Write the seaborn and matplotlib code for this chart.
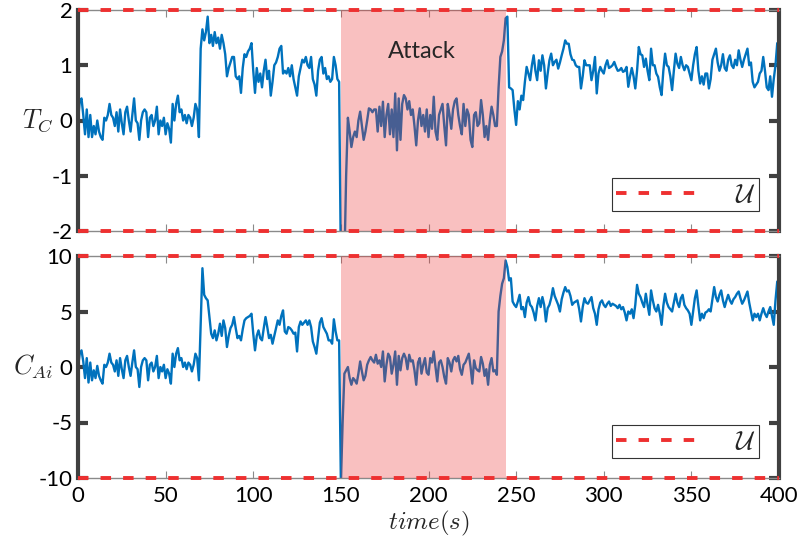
import numpy as np
import pandas as pd
import seaborn as sns
import matplotlib
matplotlib.use("Agg")
import matplotlib.pyplot as plt

# ---------------- data ----------------
time_s = np.arange(0, 401)

tc_values = [
    0.0, 0.35, 0.4, 0.1, -0.25, 0.2, -0.3, 0.1, -0.3, -0.1,
    -0.25, 0.0, -0.2, -0.3, -0.35, 0.05, 0.0, 0.1, 0.3, 0.1,
    0.05, -0.1, 0.15, -0.2, 0.2, -0.05, -0.25, 0.15, 0.25, 0.0,
    -0.2, 0.1, 0.4, 0.0, -0.05, -0.35, 0.0, 0.15, 0.2, 0.15,
    -0.3, 0.05, 0.1, -0.1, 0.0, 0.25, -0.25, 0.0, -0.1, 0.05,
    -0.25, -0.05, -0.15, -0.4, 0.3, 0.0, 0.3, 0.45, 0.15, 0.2,
    0.0, 0.1, -0.05, 0.1, 0.05, -0.1, 0.05, 0.3, 0.2, -0.3,
    1.3, 1.65, 1.45, 1.6, 1.88, 1.4, 1.55, 1.35, 1.6, 1.4,
    1.5, 1.3, 1.55, 1.4, 1.2, 0.8, 0.95, 1.05, 1.15, 1.15,
    0.8, 0.75, 0.8, 0.5, 0.95, 1.2, 1.15, 1.25, 1.3, 1.4,
    0.9, 0.5, 0.95, 0.7, 0.85, 0.6, 0.9, 1.1, 0.75, 0.9,
    0.45, 0.7, 1.0, 1.05, 1.15, 1.3, 1.35, 0.85, 0.9, 0.85,
    0.95, 0.8, 1.0, 0.75, 0.6, 0.45, 0.8, 0.95, 1.1, 1.05,
    1.15, 1.0, 0.95, 1.15, 0.75, 0.65, 0.45, 0.9, 1.1, 1.15,
    0.85, 0.95, 0.75, 0.8, 0.7, 0.75, 1.15, 1.0, 0.75, 0.7,
    -2.6, -2.6, -2.6, -1.0, 0.05, -0.2, -0.48, -0.3, -0.2, -0.3,
    0.0, 0.16, -0.1, -0.35, -0.2, 0.0, 0.22, 0.2, 0.15, 0.2,
    0.2, -0.2, 0.25, -0.1, 0.34, -0.3, 0.1, 0.3, -0.25, 0.2,
    -0.3, 0.49, -0.54, 0.4, -0.35, 0.3, 0.46, 0.4, 0.2, 0.35,
    0.1, 0.2, -0.1, -0.45, 0.0, 0.22, -0.1, 0.1, -0.2, 0.2,
    -0.3, 0.1, -0.15, 0.43, -0.2, -0.35, 0.1, 0.2, 0.3, -0.1,
    -0.45, 0.3, 0.1, -0.15, 0.2, 0.35, 0.4, 0.1, -0.1, -0.25,
    0.3, -0.1, 0.2, 0.1, -0.35, -0.48, 0.1, 0.15, -0.1, -0.05,
    0.37, 0.1, -0.3, -0.1, -0.35, 0.0, 0.25, 0.1, -0.1, -0.1,
    0.6, 1.15, 1.25, 1.45, 1.85, 1.88, 0.6, 0.58, 0.55, 0.2,
    -0.08, 0.35, 0.2, 0.45, 0.37, 0.7, 0.97, 0.85, 0.73, 1.0,
    1.18, 0.9, 0.73, 1.09, 0.9, 1.18, 1.0, 0.58, 0.85, 1.09,
    1.21, 1.0, 1.06, 1.1, 0.94, 1.05, 1.18, 1.3, 1.45, 1.39,
    1.39, 1.2, 1.1, 1.09, 1.0, 0.97, 0.97, 0.58, 0.8, 1.09,
    1.0, 1.0, 1.0, 0.73, 0.9, 1.15, 0.49, 0.85, 0.97, 0.9,
    0.85, 1.0, 1.09, 0.95, 0.97, 1.0, 1.06, 0.97, 0.9, 0.91,
    0.95, 0.88, 0.9, 0.97, 0.61, 0.8, 0.95, 0.8, 0.58, 0.9,
    1.33, 1.2, 1.18, 0.97, 1.12, 0.9, 0.73, 1.3, 1.0, 1.0,
    0.85, 0.79, 0.6, 0.46, 0.9, 1.21, 1.0, 0.97, 0.8, 0.55,
    0.9, 1.21, 1.03, 0.95, 1.15, 1.0, 0.91, 1.0, 0.97, 0.85,
    0.73, 1.0, 1.2, 1.33, 0.9, 0.67, 0.8, 0.65, 0.85, 0.85,
    0.58, 0.75, 1.1, 1.2, 1.3, 1.05, 0.9, 1.0, 1.2, 0.95,
    0.9, 1.1, 1.18, 1.0, 0.95, 1.1, 1.0, 1.27, 1.1, 0.97,
    1.1, 1.2, 1.3, 1.0, 1.05, 0.7, 0.6, 0.65, 0.7, 0.85,
    0.9, 1.15, 0.9, 0.6, 0.55, 0.8, 0.43, 0.75, 1.0, 1.4,
    1.2,
]

cai_values = [
    0.0, 1.2, 1.5, 0.5, -1.0, 0.8, -1.4, 0.4, -1.2, -0.3,
    -1.0, 0.1, -0.8, -1.2, -1.5, 0.2, 0.0, 0.4, 1.2, 0.4,
    0.2, -0.4, 0.6, -0.8, 0.8, -0.2, -1.0, 0.6, 1.0, 0.0,
    -0.8, 0.4, 1.5, 0.0, -0.2, -1.8, 0.0, 0.6, 0.8, 0.6,
    -1.2, 0.2, 0.4, -0.4, 0.0, 1.0, -1.0, 0.0, -0.4, 0.2,
    -1.0, -0.2, -0.6, -1.5, 1.2, 0.0, 1.2, 1.7, 0.6, 0.8,
    0.0, 0.4, -0.2, 0.4, 0.2, -0.4, 0.2, 1.2, 0.8, -1.2,
    4.0, 8.9, 6.5, 6.2, 6.0, 4.5, 3.0, 2.6, 3.3, 2.4,
    3.0, 3.9, 2.8, 4.2, 3.5, 1.8, 2.8, 3.5, 3.8, 4.5,
    3.5, 2.6, 2.8, 2.4, 3.4, 4.2, 4.4, 4.5, 4.6, 4.8,
    3.0, 1.5, 2.8, 3.3, 2.6, 2.4, 3.5, 4.5, 3.6, 2.6,
    2.9, 2.1, 2.8, 3.5, 4.2, 3.8, 4.6, 5.1, 3.2, 3.0,
    3.6, 3.5, 3.3, 3.0, 3.1, 1.4, 3.6, 4.1, 3.8, 4.0,
    4.2, 3.8, 4.2, 3.6, 2.3, 1.8, 1.2, 2.6, 4.0, 4.4,
    3.6, 3.3, 3.0, 2.4, 2.4, 2.1, 4.3, 3.2, 2.4, 2.4,
    -10.5, -5.0, -0.6, -0.3, 0.0, -1.0, -1.6, -1.0, -1.2, -1.5,
    -0.6, 0.5, -0.4, -1.2, -0.8, 0.2, 0.6, 0.9, 0.6, 0.4,
    1.1, 0.3, 0.6, 0.0, 1.4, -1.3, 0.2, 1.2, 0.9, -0.6,
    0.2, 1.4, -1.6, 1.0, -0.3, 0.8, 1.2, 0.8, -0.2, 1.1,
    0.5, 0.6, -0.3, -1.6, 0.4, 0.8, -0.6, 0.2, 0.8, -0.5,
    -0.7, 0.8, 0.4, 1.4, 0.0, -1.3, 0.4, 0.6, 0.0, -0.9,
    -1.5, 0.8, 0.4, -0.4, 0.6, 0.9, 0.5, 1.0, -0.2, -0.7,
    0.2, 0.4, 0.8, 1.2, 0.0, -1.5, 0.6, -0.1, -0.3, -0.4,
    0.9, 0.3, -0.8, -0.2, -1.6, 0.2, 0.8, -0.4, -0.3, -0.7,
    5.0, 6.4, 7.5, 8.0, 9.6, 9.0, 7.8, 8.0, 5.9, 5.6,
    5.4, 5.9, 6.5, 5.2, 5.4, 4.5, 5.8, 6.3, 5.6, 5.4,
    4.9, 4.2, 5.5, 6.2, 5.4, 6.3, 5.6, 4.1, 5.3, 5.6,
    6.2, 7.1, 6.4, 6.0, 5.6, 5.0, 6.1, 6.7, 7.2, 6.8,
    6.9, 6.4, 5.6, 5.8, 5.9, 6.0, 5.2, 4.1, 5.4, 6.2,
    5.8, 5.7, 6.0, 6.3, 5.3, 4.8, 3.8, 5.2, 5.8, 6.0,
    5.6, 5.4, 5.7, 5.9, 5.5, 5.7, 5.6, 5.5, 5.3, 5.6,
    5.2, 5.4, 4.9, 4.2, 5.0, 4.8, 5.2, 4.4, 5.6, 7.4,
    6.6, 6.3, 5.8, 5.4, 6.6, 5.6, 4.7, 6.9, 6.0, 5.3,
    5.0, 5.6, 4.8, 3.8, 5.5, 6.6, 5.8, 5.4, 5.2, 5.0,
    5.8, 6.6, 5.8, 5.4, 6.2, 6.5, 5.6, 5.3, 5.1, 4.8,
    3.8, 5.0, 6.2, 6.9, 5.5, 4.2, 4.8, 4.4, 4.9, 5.0,
    5.2, 5.0, 6.1, 7.2, 6.3, 5.9, 6.5, 6.9, 6.0, 5.4,
    6.0, 6.5, 6.0, 5.7, 6.1, 6.3, 6.6, 6.8, 6.2, 5.7,
    6.0, 6.4, 6.8, 5.8, 5.0, 4.2, 4.8, 4.5, 4.8, 4.2,
    4.8, 5.3, 4.8, 4.5, 5.0, 5.4, 4.6, 3.8, 6.0, 7.7,
    6.5,
]

tc_bounds = [-2, 2]
cai_bounds = [-10, 10]
attack_window = [150, 244]
attack_label = "Attack"
x_ticks = [0, 50, 100, 150, 200, 250, 300, 350, 400]
tc_ticks = [-2, -1, 0, 1, 2]
cai_ticks = [-10, -5, 0, 5, 10]

# ---------------- style ----------------
sns.set_style("white")
plt.rcParams["font.family"] = ["Lato", "DejaVu Sans"]
plt.rcParams["mathtext.fontset"] = "cm"
plt.rcParams["axes.unicode_minus"] = False

BLUE = "#0072BD"
RED = "#EE3030"
DARK = "#404040"
GRAY = "#8a8a8a"

fig = plt.figure(figsize=(8.02, 5.49), dpi=100)
ax1 = fig.add_axes([78 / 802, 1 - 231 / 549, 701 / 802, 221 / 549])
ax2 = fig.add_axes([78 / 802, 1 - 478 / 549, 701 / 802, 222 / 549])

df = pd.DataFrame({"time": time_s, "tc": tc_values, "cai": cai_values})


def style_axes(ax, bounds, yticks, ylabel, show_xlabels):
    ax.set_xlim(0, 400)
    ax.set_ylim(bounds[0], bounds[1])
    ax.set_xticks(x_ticks)
    ax.set_yticks(yticks)
    for s in ["left", "right"]:
        ax.spines[s].set_color(DARK)
        ax.spines[s].set_linewidth(3.0)
        ax.spines[s].set_visible(True)
    for s in ["top", "bottom"]:
        ax.spines[s].set_color(GRAY)
        ax.spines[s].set_linewidth(1.0)
        ax.spines[s].set_visible(True)
    ax.tick_params(axis="y", which="both", direction="in", left=True, right=True,
                   length=7, width=3.0, color=DARK, labelsize=16, pad=4,
                   labelcolor="black")
    ax.tick_params(axis="x", which="both", direction="in", top=True, bottom=True,
                   length=5, width=0.8, color=GRAY, labelsize=16, pad=6,
                   labelbottom=show_xlabels, labelcolor="black")
    ax.set_ylabel(ylabel, rotation=0, fontsize=19, va="center", ha="right")
    ax.yaxis.set_label_coords(-0.035, 0.5)


for ax, col, bounds, yticks, ylabel, show in [
    (ax1, "tc", tc_bounds, tc_ticks, r"$T_C$", False),
    (ax2, "cai", cai_bounds, cai_ticks, r"$C_{Ai}$", True),
]:
    sns.lineplot(data=df, x="time", y=col, ax=ax, color=BLUE, linewidth=1.7, zorder=2)
    ax.axvspan(attack_window[0], attack_window[1], color=RED, alpha=0.3, lw=0, zorder=3)
    first = True
    for b in bounds:
        ax.axhline(b, color=RED, linewidth=2.8, dashes=(2.7, 3.1), zorder=4,
                   clip_on=False, label=r"$\mathcal{U}$" if first else None)
        first = False
    style_axes(ax, bounds, yticks, ylabel, show)
    ax.set_xlabel("")
    leg = ax.legend(loc="lower right", fontsize=19, frameon=True, fancybox=False,
                    framealpha=1, edgecolor="#333333", handlelength=3.3,
                    borderpad=0.15, handletextpad=1.2, borderaxespad=0.75,
                    bbox_to_anchor=(1.0, 0.0))
    leg.get_frame().set_linewidth(0.8)

ax1.text(196, 1.24, attack_label, fontsize=17, ha="center", va="center", zorder=5)
ax2.set_xlabel(r"$time(s)$", fontsize=18, labelpad=2)

fig.savefig("out.png", dpi=100)
